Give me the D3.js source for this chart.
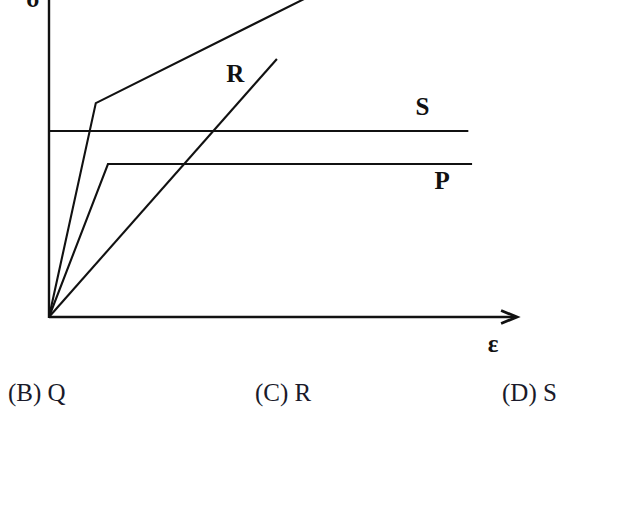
<!DOCTYPE html>
<html><head><meta charset="utf-8">
<script src="https://cdn.jsdelivr.net/npm/d3@7"></script>
<style>html,body{margin:0;padding:0;background:#fff;}svg{display:block;}</style>
</head><body>
<script>
// Curve names and their (strain, stress) vertices
const seriesNames = ["Q", "R", "S", "P"];
const seriesQ = [[0, 0], [1.0, 7.13], [5.45, 10.6]];
const seriesR = [[0, 0], [4.87, 8.6]];
const seriesS = [[0, 6.2], [8.96, 6.2]];
const seriesP = [[0, 0], [1.26, 5.1], [9.04, 5.1]];
const curveLabels = [["R", 3.98, 7.83], ["S", 7.98, 6.73], ["P", 8.4, 4.28]];
const axisLabels = ["ε", "σ"];
const options = ["(B) Q", "(C) R", "(D) S"];

const W = 620, H = 506;
const svg = d3.select("body").append("svg").attr("width", W).attr("height", H);
const x = d3.scaleLinear().domain([0, 10]).range([49, 517]);
const y = d3.scaleLinear().domain([0, 10]).range([317, 17]);
const ink = "#111";

// axes
svg.append("line").attr("x1", x(0)).attr("x2", x(0)).attr("y1", y(0) + 1).attr("y2", y(11))
  .attr("stroke", ink).attr("stroke-width", 2.4);
svg.append("line").attr("x1", x(0)).attr("x2", x(9.95)).attr("y1", y(0)).attr("y2", y(0))
  .attr("stroke", ink).attr("stroke-width", 2.6);
svg.append("path")
  .attr("d", `M${x(9.66)},${y(0) - 6.5} L${x(10)},${y(0)} L${x(9.66)},${y(0) + 6.5}`)
  .attr("fill", "none").attr("stroke", ink).attr("stroke-width", 2.8).attr("stroke-linejoin", "miter");

const line = d3.line().x(d => x(d[0])).y(d => y(d[1]));
[seriesQ, seriesR, seriesS, seriesP].forEach(s => {
  svg.append("path").attr("d", line(s)).attr("fill", "none")
    .attr("stroke", ink).attr("stroke-width", 2.1).attr("stroke-linejoin", "miter");
});

svg.selectAll("text.cl").data(curveLabels).join("text").attr("class", "cl")
  .attr("x", d => x(d[1])).attr("y", d => y(d[2])).attr("text-anchor", "middle")
  .attr("font-family", "Liberation Serif, serif").attr("font-weight", "bold")
  .attr("font-size", 25).attr("fill", ink).text(d => d[0]);

svg.append("text").attr("x", 493).attr("y", 352).attr("text-anchor", "middle")
  .attr("font-family", "Liberation Serif, serif").attr("font-weight", "bold").attr("font-size", 25).attr("fill", ink).text(axisLabels[0]);
svg.append("text").attr("x", 33).attr("y", 7).attr("text-anchor", "middle")
  .attr("font-family", "Liberation Serif, serif").attr("font-weight", "bold").attr("font-size", 25).attr("fill", ink).text(axisLabels[1]);

const optX = [8, 255, 502];
svg.selectAll("text.opt").data(options).join("text").attr("class", "opt")
  .attr("x", (d, i) => optX[i]).attr("y", 401)
  .attr("font-family", "Liberation Serif, serif").attr("font-size", 25).attr("fill", "#1a1a2a").text(d => d);
</script>
</body></html>
